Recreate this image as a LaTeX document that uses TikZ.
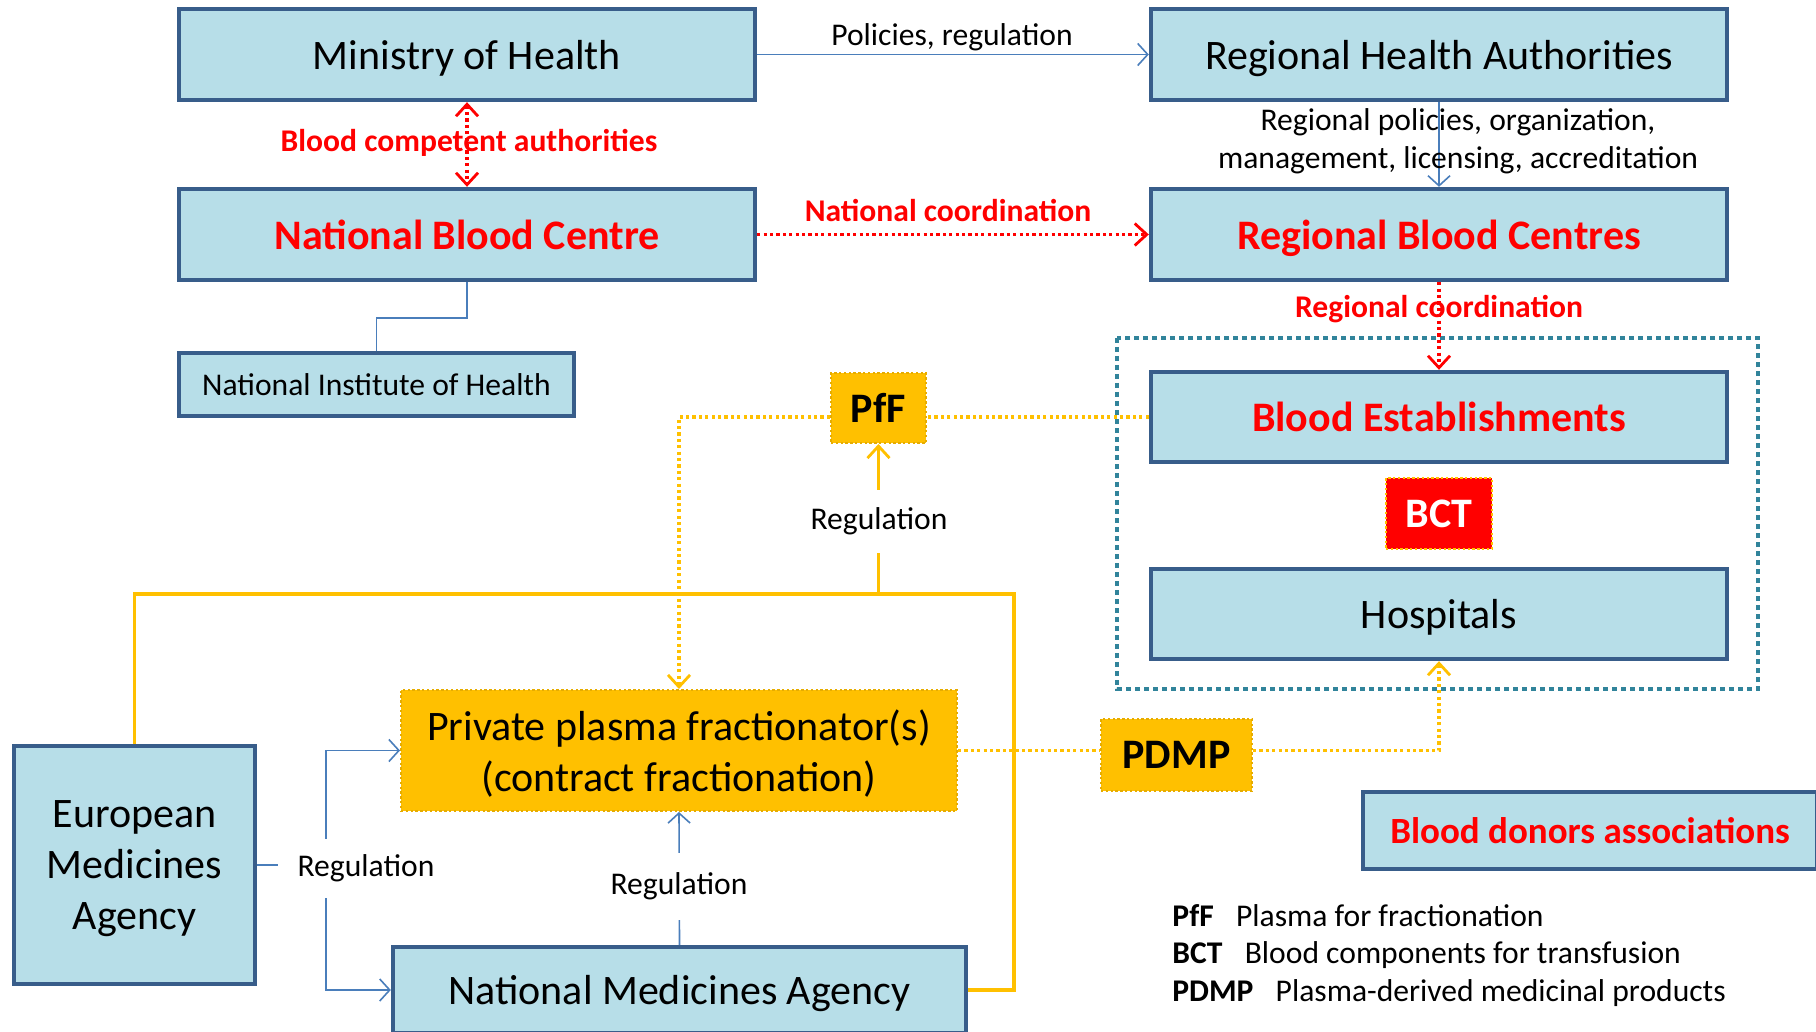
\documentclass[tikz,border=0pt]{standalone}
\usepackage{fontspec}
\setmainfont{Carlito}
\usetikzlibrary{arrows.meta,calc}
\definecolor{boxfill}{HTML}{B7DEE8}
\definecolor{boxline}{HTML}{385D8A}
\definecolor{conn}{HTML}{4A7EBB}
\definecolor{gold}{HTML}{FFC000}
\definecolor{goldline}{HTML}{E6AC00}
\definecolor{tealline}{HTML}{31849B}
\definecolor{redc}{HTML}{FF0000}
\begin{document}
\begin{tikzpicture}[x=0.5pt,y=-0.5pt,
  bigfont/.style={font=\fontsize{21}{25.5}\selectfont},
  bigbold/.style={font=\fontsize{21}{25.5}\selectfont\bfseries},
  smallfont/.style={font=\fontsize{15.8}{19}\selectfont},
  smallbold/.style={font=\fontsize{15.8}{19}\selectfont\bfseries},
  bluebox/.style={draw=boxline, fill=boxfill, line width=2.2pt, inner sep=0pt, align=center, text depth=0pt, bigfont},
  goldbox/.style={fill=gold, draw=goldline, line width=1pt, dash pattern=on 1.2pt off 1.2pt, inner sep=0pt, align=center, text depth=0pt},
  blueline/.style={draw=conn, line width=0.8pt},
  bluearrow/.style={blueline, -{Straight Barb[length=5pt,width=11pt,line width=0.8pt]}},
  reddot/.style={draw=redc, line width=1.6pt, dash pattern=on 1.6pt off 1.6pt},
  redarrow/.style={reddot, -{Straight Barb[length=6pt,width=11pt,line width=1.4pt]}},
  golddot/.style={draw=gold, line width=1.6pt, dash pattern=on 1.6pt off 1.6pt},
  goldsolid/.style={draw=gold, line width=1.6pt},
  goldtip/.style={-{Straight Barb[length=6pt,width=11pt,line width=1.4pt]}},
  masklabel/.style={smallfont, fill=white, inner xsep=5pt}
]
\useasboundingbox (0,0) rectangle (1816,1032);
\clip (0,0) rectangle (1816,1032);
\fill[white] (0,0) rectangle (1816,1032);

% dotted teal frame
\draw[draw=tealline, line width=2pt, dash pattern=on 2.5pt off 2pt] (1117,338) rectangle (1758,689);

% boxes
\node[bluebox, minimum width=288pt, minimum height=45.5pt] (moh) at (467,54.5) {Ministry of Health};
\node[bluebox, minimum width=288pt, minimum height=45.5pt] (rha) at (1439,54.5) {Regional Health Authorities};
\node[bluebox, bigbold, text=redc, minimum width=288pt, minimum height=45.5pt] (nbc) at (467,234.5) {National Blood Centre};
\node[bluebox, bigbold, text=redc, minimum width=288pt, minimum height=45.5pt] (rbc) at (1439,234.5) {Regional Blood Centres};
\node[bluebox, smallfont, minimum width=197.5pt, minimum height=31.5pt] (nih) at (376.5,384.5) {National Institute of Health};
\node[goldbox, bigbold, minimum width=47.5pt, minimum height=35pt] (pff) at (878.5,408) {PfF};
\node[bluebox, bigbold, text=redc, minimum width=288pt, minimum height=45pt] (be) at (1439,417) {Blood Establishments};
\node[fill=redc, draw=gold, line width=1.2pt, dash pattern=on 1.2pt off 1.2pt, bigbold, text=white, inner sep=0pt, text depth=0pt, minimum width=53pt, minimum height=35.5pt] (bct) at (1439,513.5) {BCT};
\node[bluebox, minimum width=288pt, minimum height=45pt] (hosp) at (1439,614) {Hospitals};
\node[goldbox, bigfont, minimum width=278pt, minimum height=60.5pt] (ppf) at (679,750.5) {Private plasma fractionator(s)\\(contract fractionation)};
\node[goldbox, bigbold, minimum width=75.5pt, minimum height=36pt] (pdmp) at (1176.5,755) {PDMP};
\node[bluebox, minimum width=120.5pt, minimum height=119pt] (ema) at (134.5,865) {European\\Medicines\\Agency};
\node[bluebox, minimum width=286.5pt, minimum height=43pt] (nma) at (679.5,990) {National Medicines Agency};
\node[bluebox, font=\fontsize{18.5}{22}\selectfont\bfseries, text=redc, minimum width=227pt, minimum height=38.5pt] (bda) at (1590,830.5) {Blood donors associations};

% top connectors
\draw[bluearrow] (moh) -- (rha);
\node[smallfont] (lpol) at (952,37.5) {Policies, regulation};
\draw[redarrow, {Straight Barb[length=6pt,width=11pt,line width=1.4pt]}-{Straight Barb[length=6pt,width=11pt,line width=1.4pt]}] (moh.south) -- (nbc.north);
\node[smallbold, text=redc] (lbca) at (469,142.5) {Blood competent authorities};
\draw[redarrow] (nbc) -- (rbc);
\node[smallbold, text=redc] (lnc) at (948,211) {National coordination};
\draw[bluearrow] (rha.south) -- (rbc.north);
\node[smallfont, align=center] (lrp) at (1458,141) {Regional policies, organization,\\management, licensing, accreditation};
\draw[redarrow] (rbc.south) -- (be.north);
\node[smallbold, text=redc] (lrc) at (1439,309.5) {Regional coordination};
\draw[blueline] (nbc.south) -- ++(0,36) -| (nih.north);

% PfF dotted links
\draw[golddot] (be.west) -- (pff.east |- be.west);
\draw[golddot, goldtip] (pff.west |- be.west) -| (ppf.north);

% yellow regulation lines
\coordinate (yj) at (878.5,594);
\draw[goldsolid] (ema.north) |- (1014,594) |- (nma.east);
\draw[goldsolid, goldtip] (yj) -- (pff.south);
\node[masklabel, inner ysep=9pt] (lreg1) at (879,521.5) {Regulation};

% PDMP dotted links
\draw[golddot] (ppf.east) -- (pdmp.west |- ppf.east);
\draw[golddot, goldtip] (pdmp.east |- ppf.east) -| (hosp.south);

% EMA regulation
\coordinate (ej) at (326,865);
\draw[blueline] (ema.east) -- (ej);
\draw[bluearrow] (ej) |- (ppf.west);
\draw[bluearrow] (ej) |- (nma.west);
\node[masklabel, inner ysep=8pt, inner xsep=10pt] (lreg2) at (366,868.5) {Regulation};

% NMA regulation
\draw[bluearrow] (nma.north) -- (ppf.south);
\node[masklabel, inner ysep=10pt] (lreg3) at (679,886.5) {Regulation};

% legend
\node[smallfont, anchor=west, inner sep=0pt] (leg1) at (1172,916) {\textbf{PfF}\hspace{0.7em}Plasma for fractionation};
\node[smallfont, anchor=west, inner sep=0pt] (leg2) at (1172,955) {\textbf{BCT}\hspace{0.7em}Blood components for transfusion};
\node[smallfont, anchor=west, inner sep=0pt] (leg3) at (1172,993.5) {\textbf{PDMP}\hspace{0.7em}Plasma-derived medicinal products};
\end{tikzpicture}
\end{document}
